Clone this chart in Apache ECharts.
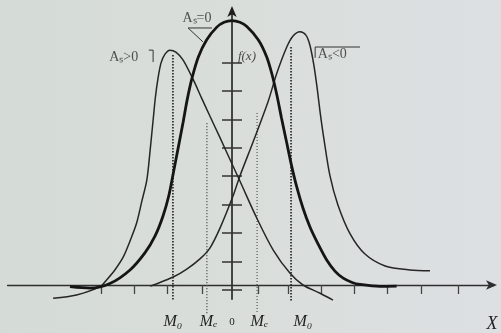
<!DOCTYPE html>
<html>
<head>
<meta charset="utf-8">
<script src="https://cdn.jsdelivr.net/npm/echarts@6/dist/echarts.min.js"></script>
<style>
  html, body { margin: 0; padding: 0; }
  #chart { width: 501px; height: 333px; }
</style>
</head>
<body>
<div id="chart"></div>
<script>
// Axis extents (x in tick units, y in tick units)
const xRange = [-6.8, 7.94];
const yRange = [-0.5, 9.72];

// Tick marks along both axes
const xTicks = [-3.95, -2.95, -1.95, -0.9, 0.8, 1.7, 2.7, 3.7, 4.7, 5.75, 6.85];
const yTicks = [-0.17, 0.83, 1.83, 2.83, 3.83, 4.83, 5.83, 6.83, 7.83];

// Labels under the x axis
const xLabelPos = [-1.79, -0.71, 0, 0.83, 2.15, 7.88];
const xLabelText = ['M₀', 'Mₑ', '0', 'Mₑ', 'M₀', 'X'];

// Symmetric distribution, As = 0
const symmetric = [
  [-4.91, -0.06], [-4.30, -0.11], [-3.70, 0.05], [-3.09, 0.53], [-2.64, 1.13],
  [-2.33, 1.73], [-2.09, 2.43], [-1.91, 3.17], [-1.76, 4.05], [-1.62, 4.89],
  [-1.48, 5.74], [-1.36, 6.51], [-1.21, 7.29], [-1.02, 8.03], [-0.77, 8.63],
  [-0.46, 9.08], [-0.24, 9.25], [0, 9.31], [0.24, 9.25], [0.45, 9.10],
  [0.80, 8.63], [1.05, 8.04], [1.21, 7.43], [1.36, 6.69], [1.50, 5.88],
  [1.66, 5.00], [1.80, 4.23], [1.96, 3.46], [2.15, 2.71], [2.36, 2.05],
  [2.61, 1.44], [2.87, 0.88], [3.12, 0.49], [3.37, 0.24], [3.64, 0.09],
  [3.88, 0.02], [4.48, -0.05], [4.99, -0.04]
];

// Right-skewed distribution, As > 0
const skewPositive = [
  [-5.42, -0.47], [-4.71, -0.35], [-4.00, -0.06], [-3.80, 0.18], [-3.55, 0.53],
  [-3.29, 1.00], [-3.09, 1.55], [-2.89, 2.18], [-2.73, 2.96], [-2.58, 3.70],
  [-2.48, 4.75], [-2.39, 5.81], [-2.32, 6.62], [-2.24, 7.29], [-2.15, 7.82],
  [-2.03, 8.13], [-1.88, 8.27], [-1.70, 8.20], [-1.48, 7.92], [-1.17, 7.22],
  [-0.92, 6.58], [-0.67, 5.95], [-0.36, 5.18], [0.03, 4.19], [0.24, 3.66],
  [0.75, 2.36], [1.25, 1.23], [1.76, 0.41], [2.15, 0], [2.67, -0.29],
  [3.06, -0.53]
];

// Left-skewed distribution, As < 0
const skewNegative = [
  [-2.48, -0.04], [-2.38, 0], [-1.78, 0.28], [-1.37, 0.56], [-0.97, 0.92],
  [-0.67, 1.30], [-0.36, 2.01], [0.03, 3.13], [0.24, 3.84], [0.65, 5.07],
  [1.10, 6.48], [1.35, 7.43], [1.66, 8.38], [1.85, 8.77], [2.06, 8.92],
  [2.24, 8.80], [2.36, 8.45], [2.48, 7.75], [2.58, 6.94], [2.67, 6.09],
  [2.79, 5.11], [2.97, 3.84], [3.21, 2.82], [3.58, 1.80], [4.03, 1.09],
  [4.64, 0.67], [5.39, 0.53], [6.00, 0.50]
];

// Vertical guides for modes and medians: x, top, bottom
const guideX = [-1.79, -0.76, 0.76, 1.79];
const guideTop = [8.1, 5.7, 6.06, 8.38];
const guideBottom = [-0.53, -1.06, -0.95, -0.6];
const guideIsMode = [true, false, false, true];

// Curve captions
const captionText = ['Aₛ>0', 'Aₛ=0', 'f(x)', 'Aₛ<0'];
const captionPos = [[-3.72, 8.0], [-1.5, 9.38], [0.18, 8.03], [2.6, 8.12]];
const captionStyle = ['cap', 'cap', 'fx', 'cap'];

// Small strokes that go with the captions
const captionMarks = [
  [[-2.52, 8.27], [-2.39, 8.27], [-2.39, 7.85]],
  [[-0.61, 9.05], [-1.33, 9.05], [-0.88, 8.56]],
  [[3.88, 8.38], [2.52, 8.38], [2.52, 8.0]]
];

const ink = '#262626';
const chart = echarts.init(document.getElementById('chart'), null, { renderer: 'canvas' });

const series = [];
guideX.forEach((x, i) => {
  series.push({
    type: 'line', symbol: 'none', silent: true, clip: false, z: 1,
    data: [[x, guideTop[i]], [x, guideBottom[i]]],
    lineStyle: guideIsMode[i]
      ? { color: '#1e1e1e', width: 1.6, type: [1.5, 1.5] }
      : { color: '#4a4a4a', width: 1.1, type: [1.2, 1.8] }
  });
});
series.push({
  type: 'line', name: 'As>0', data: skewPositive, smooth: 0.3, symbol: 'none',
  clip: false, z: 3, lineStyle: { color: ink, width: 1.5 }
});
series.push({
  type: 'line', name: 'As<0', data: skewNegative, smooth: 0.3, symbol: 'none',
  clip: false, z: 3, lineStyle: { color: ink, width: 1.5 }
});
series.push({
  type: 'line', name: 'As=0', data: symmetric, smooth: 0.3, symbol: 'none',
  clip: false, z: 4, lineStyle: { color: '#151515', width: 2.8 }
});
captionMarks.forEach(m => {
  series.push({
    type: 'line', data: m, symbol: 'none', clip: false, silent: true, z: 5,
    lineStyle: { color: '#333', width: 1 }
  });
});
series.push({
  type: 'scatter', symbolSize: 0, clip: false, silent: true, z: 6,
  data: captionText.map((t, i) => ({ name: t, value: captionPos[i], style: captionStyle[i] })),
  label: {
    show: true, position: 'right', distance: 0,
    formatter: p => '{' + p.data.style + '|' + p.name + '}',
    rich: {
      cap: { fontFamily: 'Liberation Serif', fontSize: 14, color: '#2a2a2a' },
      fx: { fontFamily: 'Liberation Serif', fontStyle: 'italic', fontSize: 13, color: '#1e1e1e' }
    }
  }
});

const gridBox = { left: 7.6, right: 7.0, top: 8.95, bottom: 33.8, containLabel: false, outerBoundsMode: 'none' };
const tickStyle = { color: '#333', width: 1.5 };

chart.setOption({
  animation: false,
  backgroundColor: {
    type: 'linear', x: 0, y: 0, x2: 1, y2: 0,
    colorStops: [
      { offset: 0, color: '#d5dbd7' },
      { offset: 0.5, color: '#d9dedb' },
      { offset: 1, color: '#dde0e3' }
    ]
  },
  // second grid carries the right half of the crossing ticks on the vertical axis
  grid: [Object.assign({}, gridBox), Object.assign({}, gridBox)],
  xAxis: [
    {
      type: 'value', min: xRange[0], max: xRange[1], gridIndex: 0,
      splitLine: { show: false },
      axisLine: {
        show: true, onZero: true,
        symbol: ['none', 'arrow'], symbolSize: [7, 11], symbolOffset: [0, 3],
        lineStyle: { color: '#2e2e2e', width: 1.4 }
      },
      axisTick: {
        show: true, customValues: xTicks, length: 9,
        lineStyle: { color: '#444', width: 1.3 }
      },
      axisLabel: {
        show: true, customValues: xLabelPos, margin: 15, color: '#222', hideOverlap: false,
        formatter: v => {
          const i = xLabelPos.findIndex(p => Math.abs(p - v) < 1e-6);
          const t = i >= 0 ? xLabelText[i] : '';
          if (t === '0') return '{z|0}';
          if (t === 'X') return '{x|X}';
          return '{m|' + t + '}';
        },
        rich: {
          m: { fontFamily: 'Liberation Serif', fontStyle: 'italic', fontSize: 16, color: '#1e1e1e' },
          z: { fontFamily: 'Liberation Serif', fontSize: 11, color: '#1e1e1e', padding: [2, 0, 0, 0] },
          x: { fontFamily: 'Liberation Serif', fontStyle: 'italic', fontSize: 18, color: '#1e1e1e', padding: [1, 0, 0, 0] }
        }
      }
    },
    {
      type: 'value', min: xRange[0], max: xRange[1], gridIndex: 1,
      splitLine: { show: false },
      axisLine: { show: false, onZero: true },
      axisTick: { show: false },
      axisLabel: { show: false }
    }
  ],
  yAxis: [
    {
      type: 'value', min: yRange[0], max: yRange[1], gridIndex: 0,
      splitLine: { show: false },
      axisLine: {
        show: true, onZero: true,
        symbol: ['none', 'arrow'], symbolSize: [7, 11], symbolOffset: [0, 3],
        lineStyle: { color: '#1e1e1e', width: 1.6 }
      },
      axisTick: { show: true, customValues: yTicks, length: 10, lineStyle: tickStyle },
      axisLabel: { show: false }
    },
    {
      type: 'value', min: yRange[0], max: yRange[1], gridIndex: 1,
      splitLine: { show: false },
      axisLine: { show: false, onZero: true },
      axisTick: { show: true, inside: true, customValues: yTicks, length: 10, lineStyle: tickStyle },
      axisLabel: { show: false }
    }
  ],
  series: series
});
</script>
</body>
</html>
